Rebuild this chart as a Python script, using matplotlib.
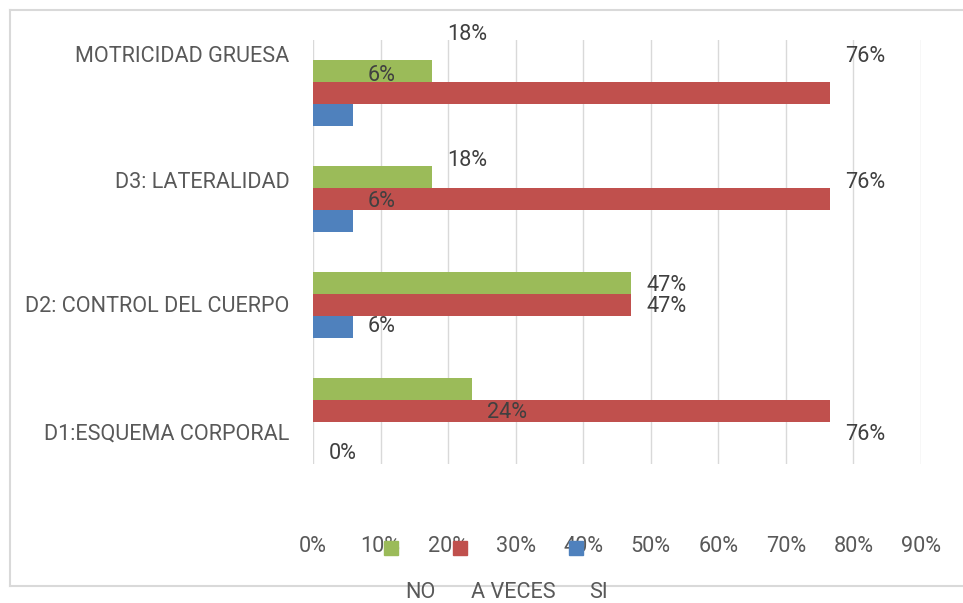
import matplotlib
matplotlib.use("Agg")
import matplotlib.pyplot as plt
from matplotlib.lines import Line2D
from matplotlib.patches import Rectangle
import numpy as np

plt.rcParams['font.family'] = ['Roboto', 'DejaVu Sans']
FS = 15.6

categories = ["D1:ESQUEMA CORPORAL", "D2: CONTROL DEL CUERPO", "D3: LATERALIDAD", "MOTRICIDAD GRUESA"]
series_names = ["NO", "A VECES", "SI"]
no_vals = [23.53, 47.06, 17.65, 17.65]
aveces_vals = [76.47, 47.06, 76.47, 76.47]
si_vals = [0.0, 5.88, 5.88, 5.88]
x_ticks = [0, 10, 20, 30, 40, 50, 60, 70, 80, 90]
x_ticklabels = ["0%", "10%", "20%", "30%", "40%", "50%", "60%", "70%", "80%", "90%"]

colors = {"NO": "#9BBB59", "A VECES": "#C0504D", "SI": "#4F81BD"}
label_offset_px = [23, 2, -17, -37]  # vertical misplacement of labels per category (px, down positive)

W, H = 963, 603
fig = plt.figure(figsize=(W / 100, H / 100), dpi=100)
ax = fig.add_axes([313 / W, 1 - 464 / H, (921 - 313) / W, (464 - 40) / H])

y = np.arange(len(categories))
h = 0.2075
series = [("NO", no_vals, h), ("A VECES", aveces_vals, 0.0), ("SI", si_vals, -h)]
for name, vals, off in series:
    ax.barh(y + off, vals, height=h, color=colors[name], zorder=2)

ax.set_xlim(0, 90)
ax.set_ylim(-0.5, 3.5)
ax.set_xticks(x_ticks)
ax.set_xticklabels(x_ticklabels)
ax.set_yticks([])
ax.grid(axis='x', color='#d9d9d9', linewidth=1.0, zorder=0)
for s in ax.spines.values():
    s.set_visible(False)
ax.tick_params(axis='x', length=0, pad=52, labelsize=FS, labelcolor='#595959')

txt_color = '#404040'
# category labels
for i, cat in enumerate(categories):
    ax.annotate(cat, xy=(0, i), xycoords=('axes fraction', 'data'),
                xytext=(-17, -label_offset_px[i] * 0.72), textcoords='offset points',
                ha='right', va='center', fontsize=FS, color='#595959')

# data labels
for name, vals, off in series:
    extra = -2 if name == "SI" else 0
    for i, v in enumerate(vals):
        ax.annotate(f"{v:.0f}%", xy=(v, i + off), xycoords='data',
                    xytext=(11, -(label_offset_px[i] + extra) * 0.72), textcoords='offset points',
                    ha='left', va='center', fontsize=FS, color=txt_color)

# legend (manual, reproducing the offset layout)
leg_sq_x = [384, 453, 569]
leg_txt_x = [420, 513, 598]
for name, sx, tx in zip(series_names, leg_sq_x, leg_txt_x):
    fig.patches.append(Rectangle((sx / W, 1 - 555 / H), 14 / W, 14 / H,
                                 transform=fig.transFigure, color=colors[name], zorder=5))
    fig.text(tx / W, 1 - 593 / H, name, ha='center', va='center', fontsize=FS, color='#595959')

# chart border
bc = '#d9d9d9'
fig.lines.append(Line2D([10 / W, 10 / W], [1 - 10 / H, 1 - 586 / H], transform=fig.transFigure, color=bc, lw=1.5))
fig.lines.append(Line2D([10 / W, 1.0], [1 - 10 / H, 1 - 10 / H], transform=fig.transFigure, color=bc, lw=1.5))
fig.lines.append(Line2D([10 / W, 1.0], [1 - 586 / H, 1 - 586 / H], transform=fig.transFigure, color=bc, lw=1.5))

fig.savefig("out.png", dpi=100)
